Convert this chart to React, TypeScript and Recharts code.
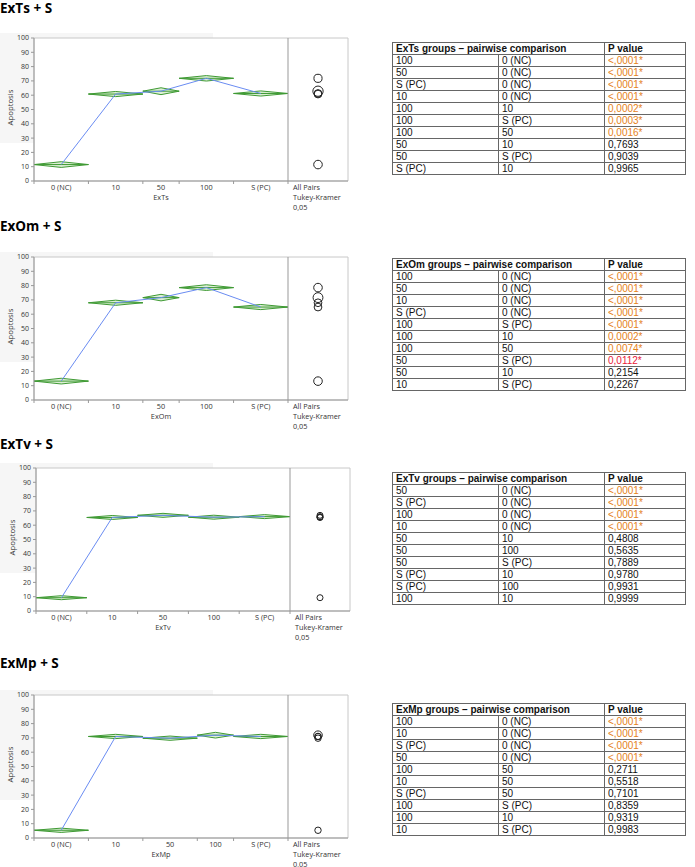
import React from 'react';
import { ComposedChart, XAxis, YAxis, Line, Scatter, ReferenceArea, ReferenceLine, Label } from 'recharts';

// group labels shared by all four panels
const groups = ['0 (NC)', '10', '50', '100', 'S (PC)'];
const yTicks = [0, 10, 20, 30, 40, 50, 60, 70, 80, 90, 100];

// ExTs + S
const extsN = [3, 3, 2, 3, 3];
const extsMeans = [11.5, 60.8, 62.8, 71.8, 61.2];
const extsCi = [2, 1.8, 2.4, 1.9, 1.8];

// ExOm + S
const exomN = [3, 3, 2, 3, 3];
const exomMeans = [13.2, 68, 71.6, 78.6, 65];
const exomCi = [2, 1.8, 2.3, 2, 1.8];

// ExTv + S
const extvN = [3, 3, 3, 3, 3];
const extvMeans = [9.3, 65.4, 66.9, 65.6, 66];
const extvCi = [1.4, 1.4, 1.4, 1.4, 1.4];

// ExMp + S
const exmpN = [3, 3, 3, 2, 3];
const exmpMeans = [5.4, 71, 69.8, 71.9, 71];
const exmpCi = [1.5, 1.5, 1.5, 2, 1.5];

// pairwise comparison tables: [group, group, p value]
const extsRows = [
  ['100', '0 (NC)', '<,0001*'],
  ['50', '0 (NC)', '<,0001*'],
  ['S (PC)', '0 (NC)', '<,0001*'],
  ['10', '0 (NC)', '<,0001*'],
  ['100', '10', '0,0002*'],
  ['100', 'S (PC)', '0,0003*'],
  ['100', '50', '0,0016*'],
  ['50', '10', '0,7693'],
  ['50', 'S (PC)', '0,9039'],
  ['S (PC)', '10', '0,9965'],
];
const exomRows = [
  ['100', '0 (NC)', '<,0001*'],
  ['50', '0 (NC)', '<,0001*'],
  ['10', '0 (NC)', '<,0001*'],
  ['S (PC)', '0 (NC)', '<,0001*'],
  ['100', 'S (PC)', '<,0001*'],
  ['100', '10', '0,0002*'],
  ['100', '50', '0,0074*'],
  ['50', 'S (PC)', '0,0112*'],
  ['50', '10', '0,2154'],
  ['10', 'S (PC)', '0,2267'],
];
const extvRows = [
  ['50', '0 (NC)', '<,0001*'],
  ['S (PC)', '0 (NC)', '<,0001*'],
  ['100', '0 (NC)', '<,0001*'],
  ['10', '0 (NC)', '<,0001*'],
  ['50', '10', '0,4808'],
  ['50', '100', '0,5635'],
  ['50', 'S (PC)', '0,7889'],
  ['S (PC)', '10', '0,9780'],
  ['S (PC)', '100', '0,9931'],
  ['100', '10', '0,9999'],
];
const exmpRows = [
  ['100', '0 (NC)', '<,0001*'],
  ['10', '0 (NC)', '<,0001*'],
  ['S (PC)', '0 (NC)', '<,0001*'],
  ['50', '0 (NC)', '<,0001*'],
  ['100', '50', '0,2711'],
  ['10', '50', '0,5518'],
  ['S (PC)', '50', '0,7101'],
  ['100', 'S (PC)', '0,8359'],
  ['100', '10', '0,9319'],
  ['10', 'S (PC)', '0,9983'],
];

const PLOT_H = 143;
const MARGIN_TOP = 5;
const X_AXIS_H = 34;
const FONT = '"Open Sans", sans-serif';

const Diamond = (props: any) => {
  const { x, y, width, height } = props;
  const my = y + height / 2;
  const pts = `${x},${my} ${x + width / 2},${y} ${x + width},${my} ${x + width / 2},${y + height}`;
  return (
    <g>
      <polygon points={pts} fill="#dcefd4" stroke="#3f9a34" strokeWidth={1} />
      <line x1={x} x2={x + width} y1={my} y2={my} stroke="#3f9a34" strokeWidth={1} />
    </g>
  );
};

function AnovaPanel({ title, titleTop, factor, n, means, ci, plotTop, left = 0 }: any) {
  const sumN = n.reduce((a: number, b: number) => a + b, 0);
  const side = (sumN * 60) / 254;
  const total = sumN + side;
  const bounds = [0];
  n.forEach((v: number) => bounds.push(bounds[bounds.length - 1] + v));
  const centers = n.map((v: number, i: number) => bounds[i] + v / 2);
  const lineData = centers.map((c: number, i: number) => ({ x: c, mean: means[i] }));
  const circleData = means.map((m: number, i: number) => ({ x: sumN + side / 2, mean: m, r: ci[i] * 1.5 }));
  const ticks = [...bounds, ...centers].sort((a, b) => a - b);

  const renderTick = (props: any) => {
    const { x, y, payload } = props;
    const v = payload.value;
    const gi = centers.indexOf(v);
    if (gi >= 0) {
      return (
        <text x={x} y={y + 9} textAnchor="middle" fontSize={7.3} fill="#333" fontFamily={FONT}>
          {groups[gi]}
        </text>
      );
    }
    return (
      <g>
        <line x1={x} x2={x} y1={y} y2={y + 3} stroke="#999" />
        {v === sumN && (
          <text x={x + 5} y={y + 9} fontSize={7.3} fill="#333" fontFamily={FONT}>
            <tspan x={x + 5} dy={0}>All Pairs</tspan>
            <tspan x={x + 5} dy={10}>Tukey-Kramer</tspan>
            <tspan x={x + 5} dy={9.5}>0,05</tspan>
          </text>
        )}
      </g>
    );
  };

  const pxPerUnit = PLOT_H / 100;

  return (
    <>
      <div style={{ position: 'absolute', left: 0, top: titleTop, fontFamily: FONT, fontWeight: 700, fontSize: 13.5, lineHeight: '15px', color: '#000' }}>
        {title}
      </div>
      <div style={{ position: 'absolute', left: 0, top: plotTop - 5, width: 213, height: 110, background: '#f6f6f6' }} />
      <div style={{ position: 'absolute', left, top: plotTop - MARGIN_TOP }}>
        <ComposedChart width={360} height={MARGIN_TOP + PLOT_H + X_AXIS_H} data={lineData} margin={{ top: MARGIN_TOP, right: 12, left: 0, bottom: 0 }}>
          <ReferenceArea x1={0} x2={total} y1={0} y2={100} fill="#fff" fillOpacity={1} stroke="#c8c8c8" ifOverflow="visible" />
          <XAxis
            type="number"
            dataKey="x"
            domain={[0, total]}
            ticks={ticks}
            interval={0}
            allowDataOverflow
            height={X_AXIS_H}
            tickSize={0}
            tickMargin={0}
            tickLine={false}
            axisLine={{ stroke: '#999' }}
            tick={renderTick}
          >
            <Label
              content={(p: any) => {
                const vb = p.viewBox;
                return (
                  <text x={vb.x + (vb.width * (sumN / total)) / 2} y={vb.y + 19} textAnchor="middle" fontSize={7.3} fill="#333" fontFamily={FONT}>
                    {factor}
                  </text>
                );
              }}
            />
          </XAxis>
          <YAxis
            type="number"
            domain={[0, 100]}
            ticks={yTicks}
            interval={0}
            width={34}
            tickSize={3}
            tickMargin={2}
            axisLine={{ stroke: '#999' }}
            tickLine={{ stroke: '#999' }}
            tick={{ fontSize: 7, fill: '#333', fontFamily: FONT }}
          >
            <Label
              content={(p: any) => {
                const vb = p.viewBox;
                const cx = vb.x + 10;
                const cy = vb.y + vb.height / 2 - 2;
                return (
                  <text x={cx} y={cy} transform={`rotate(-90 ${cx} ${cy})`} textAnchor="middle" dominantBaseline="central" fontSize={7.8} fill="#333" fontFamily={FONT}>
                    Apoptosis
                  </text>
                );
              }}
            />
          </YAxis>
          {n.map((v: number, i: number) => (
            <ReferenceArea
              key={groups[i]}
              x1={bounds[i]}
              x2={bounds[i + 1]}
              y1={means[i] - ci[i]}
              y2={means[i] + ci[i]}
              shape={Diamond}
              ifOverflow="visible"
            />
          ))}
          <ReferenceLine x={sumN} stroke="#999" />
          <Line dataKey="mean" stroke="#6a8cf2" strokeWidth={1} dot={false} isAnimationActive={false} />
          <Scatter
            data={circleData}
            dataKey="mean"
            isAnimationActive={false}
            shape={(p: any) => <circle cx={p.cx} cy={p.cy} r={p.payload.r * pxPerUnit} fill="none" stroke="#222" strokeWidth={1} />}
          />
        </ComposedChart>
      </div>
    </>
  );
}

const pColor = (p: string) => {
  if (!p.includes('*')) return '#111';
  const v = parseFloat(p.replace('<', '').replace('*', '').replace(',', '.'));
  return v < 0.01 ? '#e5821a' : '#e8203a';
};

const cell: React.CSSProperties = {
  border: '1px solid #666',
  height: 11,
  padding: '0 3px',
  lineHeight: '11px',
  whiteSpace: 'nowrap',
  overflow: 'hidden',
};

function PairTable({ title, rows, top }: any) {
  return (
    <table
      style={{
        position: 'absolute',
        left: 392,
        top,
        width: 293,
        borderCollapse: 'collapse',
        tableLayout: 'fixed',
        fontFamily: '"Liberation Sans", Arial, sans-serif',
        fontSize: 10,
        color: '#111',
      }}
    >
      <colgroup>
        <col style={{ width: 106 }} />
        <col style={{ width: 106 }} />
        <col style={{ width: 81 }} />
      </colgroup>
      <thead>
        <tr>
          <th colSpan={2} style={{ ...cell, textAlign: 'left', fontWeight: 700 }}>{title}</th>
          <th style={{ ...cell, textAlign: 'left', fontWeight: 700 }}>P value</th>
        </tr>
      </thead>
      <tbody>
        {rows.map((r: string[], i: number) => (
          <tr key={i}>
            <td style={cell}>{r[0]}</td>
            <td style={cell}>{r[1]}</td>
            <td style={{ ...cell, color: pColor(r[2]) }}>{r[2]}</td>
          </tr>
        ))}
      </tbody>
    </table>
  );
}

export default function App() {
  return (
    <div style={{ position: 'absolute', left: 0, top: 0, width: 695, height: 867, background: '#fff' }}>
      <AnovaPanel title="ExTs + S" titleTop={1} factor="ExTs" n={extsN} means={extsMeans} ci={extsCi} plotTop={38} />
      <PairTable title="ExTs groups – pairwise comparison" rows={extsRows} top={42} />
      <AnovaPanel title="ExOm + S" titleTop={219} factor="ExOm" n={exomN} means={exomMeans} ci={exomCi} plotTop={257} />
      <PairTable title="ExOm groups – pairwise comparison" rows={exomRows} top={258} />
      <AnovaPanel title="ExTv + S" titleTop={437} factor="ExTv" n={extvN} means={extvMeans} ci={extvCi} plotTop={468} left={2} />
      <PairTable title="ExTv groups – pairwise comparison" rows={extvRows} top={472} />
      <AnovaPanel title="ExMp + S" titleTop={656} factor="ExMp" n={exmpN} means={exmpMeans} ci={exmpCi} plotTop={695} />
      <PairTable title="ExMp groups – pairwise comparison" rows={exmpRows} top={703} />
    </div>
  );
}
